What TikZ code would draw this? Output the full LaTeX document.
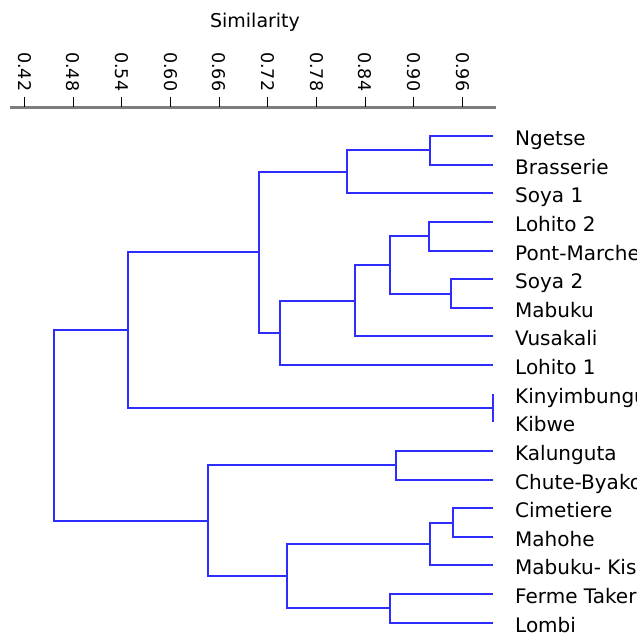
\documentclass[tikz,border=0pt]{standalone}
\usepackage{fontspec}
\setmainfont{DejaVu Sans}
\usepackage{tikz}
\usetikzlibrary{calc, positioning}
\definecolor{dendblue}{RGB}{45, 45, 255}
\definecolor{axisgray}{RGB}{125, 125, 125}

\begin{document}
\begin{tikzpicture}[x=1pt, y=-1pt,
	branch/.style={dendblue, line width=2pt},
	lbl/.style={anchor=base west, inner sep=0pt, font=\fontsize{20}{23}\selectfont},
	ticklbl/.style={anchor=west, rotate=-90, inner sep=0pt, font=\fontsize{17.5}{21}\selectfont}]
	
	\useasboundingbox (0,0) rectangle (637,637);
	
	% similarity axis
	\node[font=\fontsize{19}{22}\selectfont] (title) at (255,22) {Similarity};
	\draw[axisgray, line width=3pt] (10,107) coordinate (ax0) -- (496,107) coordinate (ax1);
	\foreach \v [count=\k from 0] in {0.42,0.48,0.54,0.60,0.66,0.72,0.78,0.84,0.90,0.96}{
		\coordinate (tk\k) at (24.5+48.66*\k, 96.5);
		\draw[black, line width=1.2pt] (tk\k) -- ++(0,10.5);
		\node[ticklbl] (v\k) at (24.5+48.66*\k, 52) {\v};
	}
	
	% leaves
	\foreach \name [count=\i from 0] in {Ngetse, Brasserie, Soya 1, Lohito 2,
		Pont-Marche, Soya 2, Mabuku, Vusakali, Lohito 1, Kinyimbungu, Kibwe,
		Kalunguta, Chute-Byako, Cimetiere, Mahohe, Mabuku- Kis, Ferme Taker, Lombi}{
		\coordinate (l\i) at (492.7, 136+28.63*\i);
		\node[lbl] (t\i) at (515, 145.5+28.63*\i) {\name};
	}
	
	% merge points
	\coordinate (nb)     at (430,   150.3);
	\coordinate (nbs)    at (347,   171.8);
	\coordinate (lp)     at (428.5, 236.2);
	\coordinate (sm)     at (450.5, 293.5);
	\coordinate (lpsm)   at (390,   264.85);
	\coordinate (lpsmv)  at (354.5, 300.6);
	\coordinate (lpsmvl) at (280,   332.8);
	\coordinate (top)    at (258.5, 252.3);
	\coordinate (kk)     at (492.7, 408);
	\coordinate (upper)  at (128,   330.15);
	\coordinate (kc)     at (396,   465.25);
	\coordinate (cm)     at (453,   522.5);
	\coordinate (cmm)    at (429.5, 544);
	\coordinate (fl)     at (389.5, 608.4);
	\coordinate (low)    at (287,   576.2);
	\coordinate (lower)  at (207.5, 520.7);
	\coordinate (root)   at (53.5,  425.4);
	
	% branches
	\foreach \a/\j/\b in {
		l0/nb/l1, nb/nbs/l2, l3/lp/l4, l5/sm/l6, lp/lpsm/sm, lpsm/lpsmv/l7,
		lpsmv/lpsmvl/l8, nbs/top/lpsmvl, l9/kk/l10, top/upper/kk,
		l11/kc/l12, l13/cm/l14, cm/cmm/l15, l16/fl/l17, cmm/low/fl,
		kc/lower/low, upper/root/lower}{
		\draw[branch] (\a) -| (\j) |- (\b);
	}
	
\end{tikzpicture}
\end{document}
